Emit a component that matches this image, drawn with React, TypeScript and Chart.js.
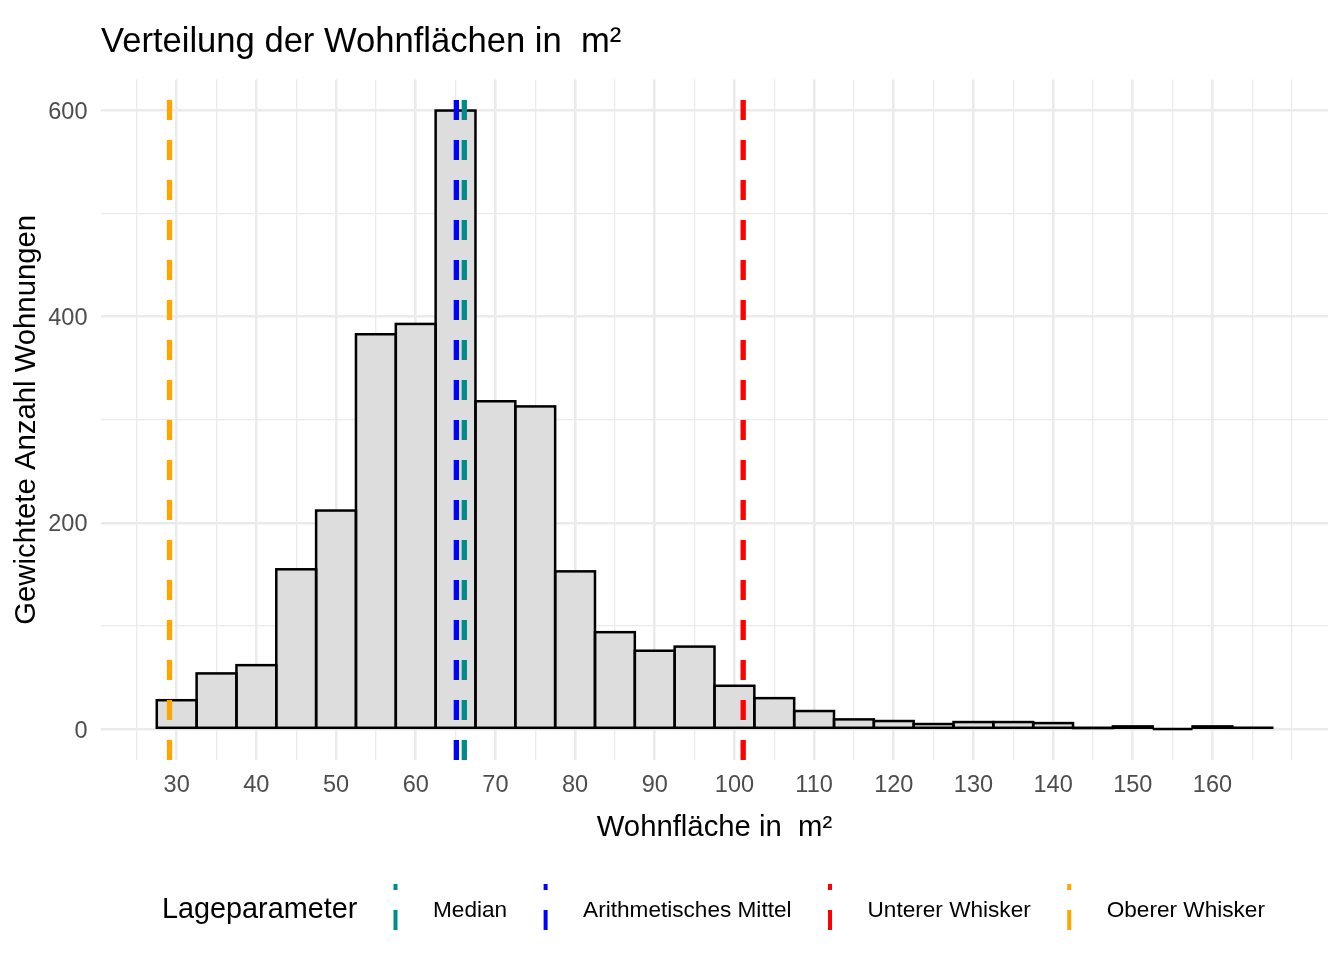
import React, { useEffect, useRef } from 'react';
import { Chart, registerables } from 'chart.js';

Chart.register(...registerables);
Chart.defaults.font.family = '"Liberation Sans", Arial, sans-serif';

// Histogram bins (width 5 m²), centres and weighted counts
const binCenters = [30, 35, 40, 45, 50, 55, 60, 65, 70, 75, 80, 85, 90, 95, 100, 105, 110, 115, 120, 125, 130, 135, 140, 145, 150, 155, 160, 165];
const weightedCounts = [28, 54, 62, 155, 212, 383, 393, 600, 318, 313, 153, 94, 76, 80, 42, 30, 17.5, 9.4, 7.8, 4.9, 6.8, 6.8, 5.8, 1, 2.6, 0, 2.6, 1.3];

// Reference lines (Lageparameter)
const lineNames = ['Median', 'Arithmetisches Mittel', 'Unterer Whisker', 'Oberer Whisker'];
const lineValues = [66.1, 65.1, 101.1, 29.1];
const lineColors = ['#008B8B', '#0000FF', '#FF0000', '#FFA500'];

// Axis ticks / grid
const xTickLabels = [30, 40, 50, 60, 70, 80, 90, 100, 110, 120, 130, 140, 150, 160];
const xMinorGrid = [25, 35, 45, 55, 65, 75, 85, 95, 105, 115, 125, 135, 145, 155, 165, 170];
const yTickLabels = [0, 200, 400, 600];
const yMinorGrid = [100, 300, 500];

const FONT = '"Liberation Sans", Arial, sans-serif';

const histOverlay = {
    id: 'histOverlay',
    afterDatasetsDraw(chart: any) {
        const { ctx, chartArea } = chart;
        const meta = chart.getDatasetMeta(0);
        ctx.save();
        ctx.strokeStyle = '#000000';
        ctx.lineWidth = 2.5;
        meta.data.forEach((bar: any) => {
            const { x, y, base, width } = bar.getProps(['x', 'y', 'base', 'width'], true);
            ctx.strokeRect(x - width / 2, y, width, base - y);
        });
        ctx.restore();

        // dashed vertical lines, dashes start at the bottom of the panel
        const xs = chart.scales.x;
        ctx.save();
        ctx.lineWidth = 5.3;
        ctx.lineCap = 'butt';
        ctx.setLineDash([20, 20]);
        lineValues.forEach((v, i) => {
            const px = xs.getPixelForValue(v);
            ctx.strokeStyle = lineColors[i];
            ctx.beginPath();
            ctx.moveTo(px, chartArea.bottom);
            ctx.lineTo(px, chartArea.top + 1);
            ctx.stroke();
        });
        ctx.restore();
    },
};

const bottomLegend = {
    id: 'bottomLegend',
    afterDraw(chart: any) {
        const { ctx } = chart;
        const midY = 910.5;
        ctx.save();
        ctx.textBaseline = 'middle';
        ctx.textAlign = 'left';
        ctx.fillStyle = '#000000';
        ctx.font = `28.8px ${FONT}`;
        ctx.fillText('Lageparameter', 162, midY);

        ctx.font = `22.6px ${FONT}`;
        let gx = 395.5;
        lineNames.forEach((name, i) => {
            ctx.save();
            ctx.strokeStyle = lineColors[i];
            ctx.lineWidth = 4;
            ctx.lineCap = 'butt';
            ctx.setLineDash([20, 20]);
            ctx.beginPath();
            ctx.moveTo(gx, 930);
            ctx.lineTo(gx, 884);
            ctx.stroke();
            ctx.restore();
            const lx = gx + 37.5;
            ctx.fillText(name, lx, midY);
            gx = lx + ctx.measureText(name).width + 38.5;
        });
        ctx.restore();
    },
};

const App: React.FC = () => {
    const chartRef = useRef<HTMLCanvasElement>(null);
    const chartInstance = useRef<Chart | null>(null);

    useEffect(() => {
        if (!chartRef.current) return;
        const ctx = chartRef.current.getContext('2d');
        if (!ctx) return;
        if (chartInstance.current) chartInstance.current.destroy();

        chartInstance.current = new Chart(ctx, {
            type: 'bar',
            data: {
                datasets: [{
                    label: 'Gewichtete Anzahl Wohnungen',
                    data: binCenters.map((c, i) => ({ x: c, y: weightedCounts[i] })),
                    backgroundColor: '#DDDDDD',
                    borderWidth: 0,
                    barPercentage: 1,
                    categoryPercentage: 1,
                }],
            },
            options: {
                animation: false,
                responsive: false,
                events: [],
                layout: { padding: { left: 0, right: 16, top: 0, bottom: 100 } },
                plugins: {
                    legend: { display: false },
                    tooltip: { enabled: false },
                    title: {
                        display: true,
                        text: 'Verteilung der Wohnflächen in  m²',
                        align: 'start',
                        fullSize: false,
                        color: '#000000',
                        font: { size: 34.6, weight: 'normal', lineHeight: 1.2 },
                        padding: { top: 21.5, bottom: 16.6 },
                    },
                },
                scales: {
                    x: {
                        type: 'linear',
                        min: 20.5,
                        max: 174.5,
                        offset: false,
                        grid: {
                            color: '#EBEBEB',
                            offset: false,
                            drawTicks: false,
                            lineWidth: (c: any) => (xTickLabels.includes(c.tick?.value) ? 2.6 : 1.3),
                        },
                        border: { display: false },
                        afterBuildTicks: (s: any) => {
                            s.ticks = [...xTickLabels, ...xMinorGrid].sort((a, b) => a - b).map((v) => ({ value: v }));
                        },
                        ticks: {
                            autoSkip: false,
                            maxRotation: 0,
                            padding: 11.5,
                            color: '#4D4D4D',
                            font: { size: 23.5 },
                            callback: (v: any) => (xTickLabels.includes(v) ? String(v) : ''),
                        },
                        title: {
                            display: true,
                            text: 'Wohnfläche in  m²',
                            color: '#000000',
                            font: { size: 29.3, lineHeight: 1.2 },
                            padding: { top: 0, bottom: 15 },
                        },
                        afterFit: (s: any) => { s.height = 100; },
                    },
                    y: {
                        min: -30,
                        max: 630,
                        grid: {
                            color: '#EBEBEB',
                            drawTicks: false,
                            lineWidth: (c: any) => (yTickLabels.includes(c.tick?.value) ? 2.6 : 1.3),
                        },
                        border: { display: false },
                        afterBuildTicks: (s: any) => {
                            s.ticks = [...yTickLabels, ...yMinorGrid].sort((a, b) => a - b).map((v) => ({ value: v }));
                        },
                        ticks: {
                            autoSkip: false,
                            padding: 13.5,
                            labelOffset: 2,
                            color: '#4D4D4D',
                            font: { size: 23.5 },
                            callback: (v: any) => (yTickLabels.includes(v) ? String(v) : ''),
                        },
                        title: {
                            display: true,
                            text: 'Gewichtete Anzahl Wohnungen',
                            color: '#000000',
                            font: { size: 29.3, lineHeight: 1.2 },
                            padding: { top: 9.2, bottom: 0 },
                        },
                        afterFit: (s: any) => { s.width = 101; },
                    },
                },
            },
            plugins: [histOverlay, bottomLegend],
        } as any);

        return () => {
            if (chartInstance.current) {
                chartInstance.current.destroy();
                chartInstance.current = null;
            }
        };
    }, []);

    return (
        <div style={{ position: 'fixed', left: 0, top: 0, width: 1344, height: 960, background: '#FFFFFF' }}>
            <canvas ref={chartRef} width={1344} height={960} style={{ display: 'block' }}></canvas>
        </div>
    );
};

export default App;
